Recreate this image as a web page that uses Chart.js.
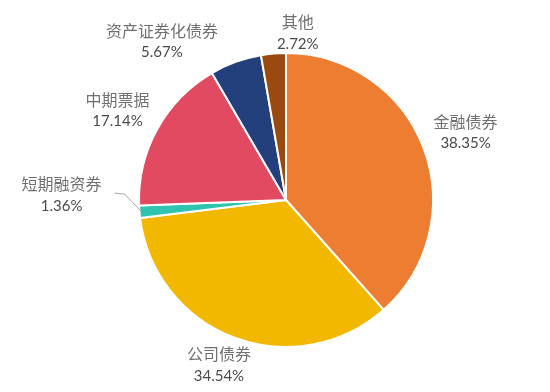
<!DOCTYPE html>
<html>
<head>
<meta charset="utf-8">
<script src="https://cdn.jsdelivr.net/npm/chart.js@4"></script>
<style>
  html, body { margin:0; padding:0; background:#fff; }
  #wrap { width:550px; height:392px; position:relative; }
</style>
</head>
<body>
<div id="wrap"><canvas id="chart" width="550" height="392"></canvas></div>
<script>
// ==== Данные ====
const labels = ['金融债券', '公司债券', '短期融资券', '中期票据', '资产证券化债券', '其他'];
const values = [38.35, 34.54, 1.36, 17.14, 5.67, 2.72];
const colors = ['#ED7D31', '#F2B800', '#2EC4B0', '#E24A62', '#233F7C', '#9A4A10'];

// сдвиги подписей от базовой точки (как расставил Excel)
const labelNudge = [[2, 0], [0, -13], [-35, -20], [-2, 2], [-59, 20], [28, 22]];

// ==== Подписи ====
const labelPlugin = {
  id: 'sliceLabels',
  afterDatasetsDraw(chart) {
    const c = chart.ctx;
    const meta = chart.getDatasetMeta(0);
    meta.data.forEach((arc, i) => {
      const mid = (arc.startAngle + arc.endAngle) / 2;
      const r = arc.outerRadius + 43;
      const x = arc.x + Math.cos(mid) * r + labelNudge[i][0];
      const y = arc.y + Math.sin(mid) * r + labelNudge[i][1];
      c.save();
      // линия-выноска для маленького сектора
      if (i === 2) {
        c.strokeStyle = '#A6A6A6';
        c.lineWidth = 1;
        c.beginPath();
        c.moveTo(x + 53, y - 2);
        c.lineTo(x + 63, y - 1);
        c.lineTo(arc.x + Math.cos(mid) * (arc.outerRadius - 2), arc.y + Math.sin(mid) * (arc.outerRadius - 2));
        c.stroke();
      }
      c.textAlign = 'center';
      c.textBaseline = 'middle';
      c.fillStyle = '#707070';
      c.font = '16px "Noto Sans CJK SC"';
      c.fillText(labels[i], x, y - 11);
      c.fillStyle = '#4a4a4a';
      c.font = '15px Lato';
      c.fillText(values[i].toFixed(2) + '%', x, y + 11);
      c.restore();
    });
  }
};

// ==== Chart.js ====
const ctx = document.getElementById('chart').getContext('2d');
new Chart(ctx, {
  type: 'pie',
  data: {
    labels: labels,
    datasets: [{
      data: values,
      backgroundColor: colors,
      borderColor: '#ffffff',
      borderWidth: 2
    }]
  },
  options: {
    responsive: false,
    animation: false,
    layout: { padding: { left: 138, right: 116, top: 52, bottom: 44 } },
    plugins: { legend: { display: false }, tooltip: { enabled: false } }
  },
  plugins: [labelPlugin]
});
</script>
</body>
</html>
